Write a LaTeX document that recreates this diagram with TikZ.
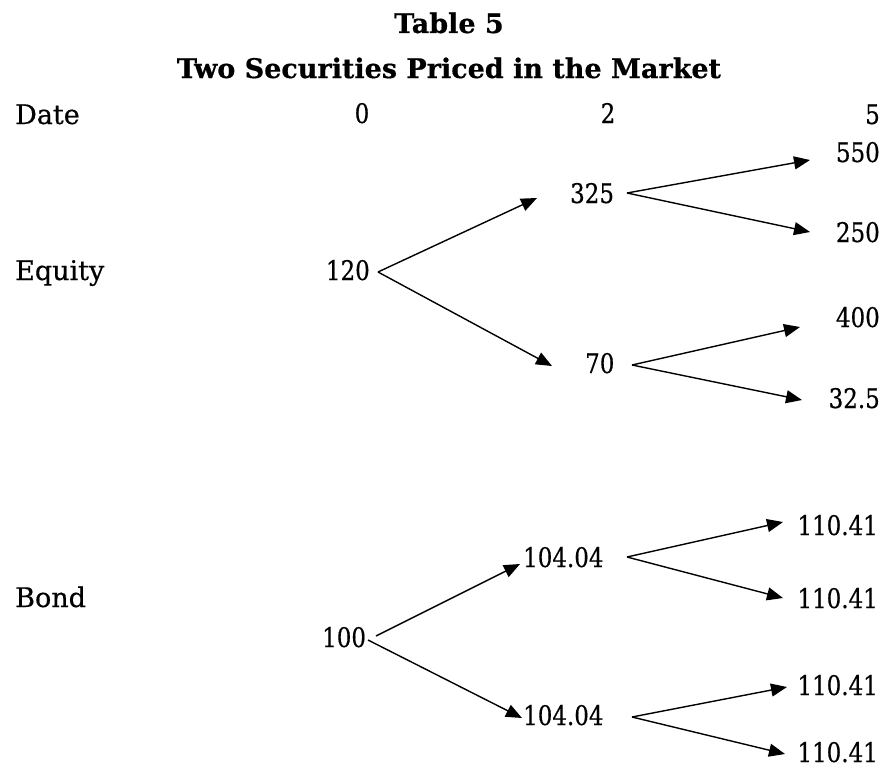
\documentclass[tikz,border=0pt]{standalone}
\usepackage{fontspec}
\setmainfont{DejaVu Serif}[FakeStretch=0.85, FakeBold=0.5, BoldFeatures={FakeStretch=1.0}]
\newfontfamily\rowfont{DejaVu Serif}[FakeBold=0.5]
\usetikzlibrary{arrows.meta}

\begin{document}
\begin{tikzpicture}[x=1pt, y=-1pt,
        val/.style={inner sep=0pt, font=\fontsize{27}{30}\selectfont},
        row/.style={inner sep=0pt, font=\fontsize{27}{30}\rowfont},
        head/.style={inner sep=0pt, font=\fontsize{27}{30}\selectfont\bfseries},
        branch/.style={-{Triangle[length=16pt, width=13pt]}, line width=1.4pt}]
        \useasboundingbox (0,0) rectangle (886,768);
        % headings
        \node[head, anchor=base] (title) at (449,33) {Table 5};
        \node[head, anchor=base] (subtitle) at (449,78) {Two Securities Priced in the Market};
        \node[row, anchor=base west] (date) at (15,124) {Date};
        \node[val, anchor=base] (t0) at (362,123) {0};
        \node[val, anchor=base] (t2) at (608,123) {2};
        \node[val, anchor=base east] (t5) at (880,124) {5};
        
        % equity tree
        \node[row, anchor=base west] (equity) at (15,280) {Equity};
        \node[val, anchor=base east] (e120) at (370,280) {120};
        \node[val, anchor=base west] (e325) at (570,203) {325};
        \node[val, anchor=base west] (e70) at (585,373) {70};
        \node[val, anchor=base east] (e550) at (880,162) {550};
        \node[val, anchor=base east] (e250) at (880,242) {250};
        \node[val, anchor=base east] (e400) at (880,327) {400};
        \node[val, anchor=base east] (e32) at (880,408) {32.5};
        
        \draw[branch] ([shift={(8,-8)}]e120.base east) -- ([shift={(-33,-5)}]e325.base west);
        \draw[branch] ([shift={(8,-8)}]e120.base east) -- ([shift={(-33,-7)}]e70.base west);
        \draw[branch] ([shift={(57,-10)}]e325.base west) -- ([shift={(-70,-2)}]e550.base east);
        \draw[branch] ([shift={(57,-10)}]e325.base west) -- ([shift={(-70,-10)}]e250.base east);
        \draw[branch] ([shift={(47,-8)}]e70.base west) -- ([shift={(-80,0)}]e400.base east);
        \draw[branch] ([shift={(47,-8)}]e70.base west) -- ([shift={(-78,-8)}]e32.base east);
        
        % bond tree
        \node[row, anchor=base west] (bond) at (15,607) {Bond};
        \node[val, anchor=base west] (b100) at (322,647) {100};
        \node[val, anchor=base west] (b104u) at (523,567) {104.04};
        \node[val, anchor=base west] (b104d) at (523,725) {104.04};
        \node[val, anchor=base east] (b110a) at (878,535) {110.41};
        \node[val, anchor=base east] (b110b) at (878,608) {110.41};
        \node[val, anchor=base east] (b110c) at (878,695) {110.41};
        \node[val, anchor=base east] (b110d) at (878,762) {110.41};
        
        \draw[branch] ([shift={(54,-11)}]b100.base west) -- ([shift={(-3,-3)}]b104u.base west);
        \draw[branch] ([shift={(46,-7)}]b100.base west) -- ([shift={(-1,-7)}]b104d.base west);
        \draw[branch] ([shift={(104,-10)}]b104u.base west) -- ([shift={(-95,-13)}]b110a.base east);
        \draw[branch] ([shift={(104,-10)}]b104u.base west) -- ([shift={(-95,-10)}]b110b.base east);
        \draw[branch] ([shift={(109,-8)}]b104d.base west) -- ([shift={(-91,-8)}]b110c.base east);
        \draw[branch] ([shift={(109,-8)}]b104d.base west) -- ([shift={(-93,-8)}]b110d.base east);
    \end{tikzpicture}
\end{document}
